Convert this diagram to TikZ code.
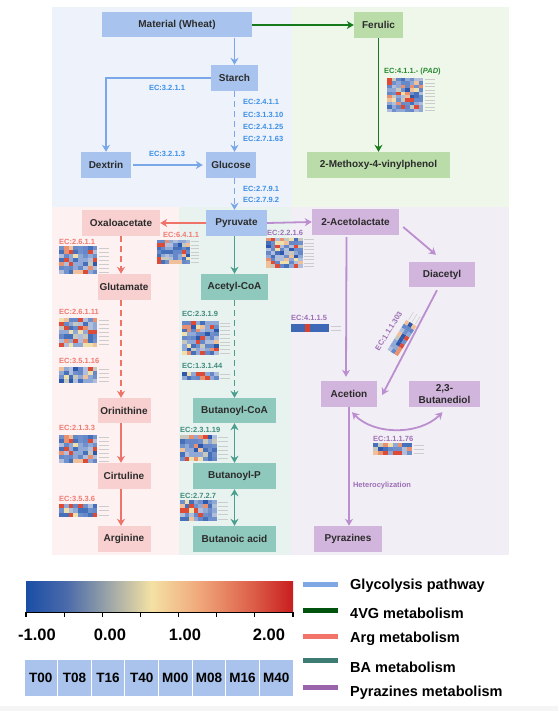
\documentclass[tikz,border=0pt]{standalone}
\usepackage{fontspec}
\setmainfont{Liberation Sans}
\usetikzlibrary{arrows.meta,calc}
\definecolor{bgblue}{HTML}{EDF2FB}
\definecolor{bggreen}{HTML}{EFF7EA}
\definecolor{bgpink}{HTML}{FDF1F1}
\definecolor{bgteal}{HTML}{E8F3F0}
\definecolor{bgpurple}{HTML}{F2EEF5}
\definecolor{glyfill}{HTML}{A8C4EE}
\definecolor{grnfill}{HTML}{B9DCA8}
\definecolor{pnkfill}{HTML}{F9D0D0}
\definecolor{tlfill}{HTML}{8FC8BC}
\definecolor{purfill}{HTML}{D2B5DC}
\definecolor{boxtext}{HTML}{2B2B2B}
\definecolor{glyline}{HTML}{7AA7E8}
\definecolor{grnline}{HTML}{157A1C}
\definecolor{pnkline}{HTML}{F0736A}
\definecolor{tlline}{HTML}{4A9E8E}
\definecolor{purline}{HTML}{BB8FCF}
\definecolor{glylab}{HTML}{3B8FE8}
\definecolor{grnlab}{HTML}{2A8A32}
\definecolor{pnklab}{HTML}{F07A70}
\definecolor{tllab}{HTML}{3E8A7C}
\definecolor{purlab}{HTML}{9C6FB5}
\definecolor{hm1}{HTML}{6688C8}
\definecolor{hm2}{HTML}{6688C8}
\definecolor{hm3}{HTML}{6688C8}
\definecolor{hm4}{HTML}{7090CC}
\definecolor{hm5}{HTML}{7090CC}
\definecolor{hm6}{HTML}{8FA8D6}
\definecolor{hm7}{HTML}{8FA8D6}
\definecolor{hm8}{HTML}{8FA8D6}
\definecolor{hm9}{HTML}{B0BEDB}
\definecolor{hm10}{HTML}{B0BEDB}
\definecolor{hm11}{HTML}{4670BA}
\definecolor{hm12}{HTML}{4670BA}
\definecolor{hm13}{HTML}{2D58AB}
\definecolor{hm14}{HTML}{C6C8BD}
\definecolor{hm15}{HTML}{EFDFAA}
\definecolor{hm16}{HTML}{F0C09A}
\definecolor{hm17}{HTML}{E99070}
\definecolor{hm18}{HTML}{DD4A36}
\definecolor{hm19}{HTML}{DD4A36}
\definecolor{hmblue}{HTML}{3E68B6}
\definecolor{hmred}{HTML}{D9412F}
\definecolor{cb1}{HTML}{1A4EA6}
\definecolor{cb2}{HTML}{4A6AAA}
\definecolor{cb3}{HTML}{8C9AA8}
\definecolor{cb4}{HTML}{F4E1A4}
\definecolor{cb5}{HTML}{F0A77A}
\definecolor{cb6}{HTML}{DC5E48}
\definecolor{cb7}{HTML}{C81D1F}
\definecolor{lgly}{HTML}{7EA7E3}
\definecolor{lgrn}{HTML}{00520C}
\definecolor{lpnk}{HTML}{F27468}
\definecolor{ltl}{HTML}{3E7B72}
\definecolor{lpur}{HTML}{9A64AD}
\definecolor{cellfill}{HTML}{A9C3EC}
\pgfdeclarehorizontalshading{cbar}{100bp}{color(0bp)=(cb1); color(25bp)=(cb1); color(32.5bp)=(cb2); color(39bp)=(cb3); color(48.5bp)=(cb4); color(57.5bp)=(cb5); color(67.5bp)=(cb6); color(75bp)=(cb7); color(100bp)=(cb7)}
\newcommand\heatmap[8]{%
  \pgfmathsetseed{#7}%
  \foreach \hmi in {1,...,#3}{%
    \foreach \hmj in {1,...,#4}{%
      \pgfmathrandominteger{\hmc}{1}{19}%
      \fill[fill=hm\hmc] ({#1+(\hmi-1)*#5},{#2+(\hmj-1)*#6}) rectangle ++(#5,#6);
    }%
  }%
  \foreach \hmj in {1,...,#4}{%
    \draw[hmlab] ({#1+#3*#5+1.5},{#2+(\hmj-0.5)*#6}) -- ++(#8,0);
  }%
}
\tikzset{
  box/.style={inner sep=0pt, font=\fontsize{10}{12}\selectfont\bfseries, text=boxtext},
  glybox/.style={box, fill=glyfill},
  grnbox/.style={box, fill=grnfill},
  pnkbox/.style={box, fill=pnkfill},
  tlbox/.style={box, fill=tlfill},
  purbox/.style={box, fill=purfill},
  arr/.style={line width=1.8pt, -{Stealth[length=7pt,width=8pt]}},
  darr/.style={line width=1.8pt, {Stealth[length=7pt,width=8pt]}-{Stealth[length=7pt,width=8pt]}},
  dsh/.style={dash pattern=on 6pt off 4pt},
  ec/.style={font=\fontsize{7.5}{9}\selectfont\bfseries, inner sep=0pt, anchor=west},
  hmlab/.style={draw=gray!40, line width=0.5pt},
  lgline/.style={line width=5pt},
  lgtext/.style={font=\fontsize{14.5}{16}\selectfont\bfseries, anchor=west, inner sep=0pt},
  ticklab/.style={font=\fontsize{16.5}{18}\selectfont\bfseries, inner sep=0pt},
  timecell/.style={fill=cellfill, draw=white, line width=1pt, minimum width=33.625pt, minimum height=37pt, inner sep=0pt, font=\fontsize{13.5}{15}\selectfont\bfseries}
}
\begin{document}
\begin{tikzpicture}[x=1pt,y=-1pt]
\useasboundingbox (0,0) rectangle (558,711);
\fill[white] (0,0) rectangle (558,711);
\fill[gray!8] (0,706) rectangle (558,711);
% regions
\fill[bgblue] (52,7) rectangle (292,207);
\fill[bggreen] (292,7) rectangle (509,207);
\fill[bgpink] (52,207) rectangle (179,555);
\fill[bgteal] (179,207) rectangle (291,555);
\fill[bgpurple] (291,207) rectangle (509,555);
% nodes
\node[glybox, minimum width=150pt, minimum height=25pt] (mat) at (177,25) {Material (Wheat)};
\node[glybox, minimum width=47pt, minimum height=26pt] (starch) at (234.5,78) {Starch};
\node[glybox, minimum width=50pt, minimum height=26pt] (dextrin) at (106,165) {Dextrin};
\node[glybox, minimum width=50pt, minimum height=26pt] (glucose) at (231,165) {Glucose};
\node[grnbox, minimum width=49pt, minimum height=26pt] (ferulic) at (378.5,25) {Ferulic};
\node[grnbox, minimum width=143pt, minimum height=26pt] (meth) at (378.5,165) {2-Methoxy-4-vinylphenol};
\node[glybox, minimum width=61pt, minimum height=26pt] (pyr) at (236.5,223) {Pyruvate};
\node[pnkbox, minimum width=78pt, minimum height=26pt] (oxa) at (121,223) {Oxaloacetate};
\node[pnkbox, minimum width=53pt, minimum height=26pt] (glu) at (124,287) {Glutamate};
\node[pnkbox, minimum width=53pt, minimum height=25pt] (orn) at (124,410.5) {Orinithine};
\node[pnkbox, minimum width=53pt, minimum height=26pt] (cir) at (124,476) {Cirtuline};
\node[pnkbox, minimum width=53pt, minimum height=26pt] (arg) at (124,539) {Arginine};
\node[tlbox, minimum width=67pt, minimum height=26pt] (acoa) at (234.5,287) {Acetyl-CoA};
\node[tlbox, minimum width=83pt, minimum height=25pt] (bcoa) at (234.5,410.5) {Butanoyl-CoA};
\node[tlbox, minimum width=83pt, minimum height=26pt] (bp) at (234.5,476) {Butanoyl-P};
\node[tlbox, minimum width=83pt, minimum height=26pt] (bacid) at (234.5,539) {Butanoic acid};
\node[purbox, minimum width=87pt, minimum height=26pt] (acl) at (355.5,222) {2-Acetolactate};
\node[purbox, minimum width=66pt, minimum height=25pt] (dia) at (442,274.5) {Diacetyl};
\node[purbox, minimum width=56pt, minimum height=26pt] (acet) at (349,394) {Acetion};
\node[purbox, minimum width=71pt, minimum height=26pt, align=center] (bd) at (444.5,394) {2,3-\\Butanediol};
\node[purbox, minimum width=68pt, minimum height=26pt] (pyz) at (348,539) {Pyrazines};
% glycolysis arrows
\draw[arr, glyline] (starch.north |- mat.south) -- (starch.north);
\draw[arr, glyline] (starch.west) -| (dextrin.north);
\draw[arr, glyline, dsh] (starch.south) -- (starch.south |- glucose.north);
\draw[arr, glyline] ([xshift=2pt]dextrin.east) -- ([xshift=-3pt]glucose.west);
\draw[arr, glyline, dsh] (starch.south |- glucose.south) -- (starch.south |- pyr.north);
% green arrows
\draw[arr, grnline] (mat.east) -- (ferulic.west);
\draw[arr, grnline] (ferulic.south) -- (ferulic.south |- meth.north);
% pink arrows
\draw[arr, pnkline] (pyr.west) -- (oxa.east);
\draw[arr, pnkline, dsh] (oxa.south) -- (oxa.south |- glu.north);
\draw[arr, pnkline, dsh] (oxa.south |- glu.south) -- (oxa.south |- orn.north);
\draw[arr, pnkline] (oxa.south |- orn.south) -- (oxa.south |- cir.north);
\draw[arr, pnkline] (oxa.south |- cir.south) -- (oxa.south |- arg.north);
% teal arrows
\draw[arr, tlline] (pyr.south -| acoa) -- (acoa.north);
\draw[arr, tlline, dsh] (acoa.south) -- (bcoa.north);
\draw[darr, tlline] (bcoa.south) -- (bp.north);
\draw[darr, tlline] (bp.south) -- (bacid.north);
% purple arrows
\draw[arr, purline] (pyr.east) -- (acl.west);
\draw[arr, purline] ($(acl.east)+(4,5)$) -- ($(dia.north)+(-6,-7)$);
\draw[arr, purline] ($(acl.south)+(-9,2)$) -- ($(acet.north)+(-3,-4)$);
\draw[arr, purline] ($(dia.south)+(-5,3)$) -- ($(acet.east)+(5,1)$);
\draw[darr, purline] ($(acet.south)+(3,5)$) .. controls ($(acet.south)+(25,28)$) and ($(bd.south)+(-25,28)$) .. ($(bd.south)+(-2,5)$);
\draw[arr, purline] (acet.south) -- (acet.south |- pyz.north);
% glycolysis labels
\node[ec, glylab, anchor=center] (ec1) at (167,88) {EC:3.2.1.1};
\node[ec, glylab] (ec2) at (243,102) {EC:2.4.1.1};
\node[ec, glylab] (ec3) at (243,115) {EC:3.1.3.10};
\node[ec, glylab] (ec4) at (243,127) {EC:2.4.1.25};
\node[ec, glylab] (ec5) at (243,139) {EC:2.7.1.63};
\node[ec, glylab, anchor=center] (ec6) at (167,154) {EC:3.2.1.3};
\node[ec, glylab] (ec7) at (243,189) {EC:2.7.9.1};
\node[ec, glylab] (ec8) at (243,200) {EC:2.7.9.2};
% green label + heatmap
\node[ec, grnlab] (ecpad) at (384,72) {EC:4.1.1.- (\textit{PAD})};
\heatmap{387}{78}{8}{10}{4.5}{3.4}{11}{10}
% pink labels + heatmaps
\node[ec, pnklab] (ec6411) at (163,235) {EC:6.4.1.1};
\heatmap{157}{240}{8}{7}{4.1}{3.4}{23}{8}
\node[ec, pnklab] (ec2611) at (59,242) {EC:2.6.1.1};
\heatmap{59}{246}{8}{7}{4.8}{4}{31}{10}
\node[ec, pnklab] (ec26111) at (59,312) {EC:2.6.1.11};
\heatmap{59}{318}{8}{7}{4.8}{4.1}{37}{10}
\node[ec, pnklab] (ec35116) at (59,360.5) {EC:3.5.1.16};
\heatmap{59}{367}{8}{4}{4.8}{4}{41}{10}
\node[ec, pnklab] (ec2133) at (59,428) {EC:2.1.3.3};
\heatmap{59}{435}{8}{7}{4.8}{4}{31}{10}
\node[ec, pnklab] (ec3536) at (59,498.5) {EC:3.5.3.6};
\heatmap{59}{504}{8}{3}{4.8}{4.3}{53}{10}
% teal labels + heatmaps
\node[ec, tllab] (ec2319) at (182,314) {EC:2.3.1.9};
\heatmap{182}{321}{8}{9}{4.6}{3.8}{61}{10}
\node[ec, tllab] (ec13144) at (182,366) {EC:1.3.1.44};
\heatmap{182}{372}{8}{2}{4.6}{4}{67}{10}
\node[ec, tllab] (ec23119) at (180,430) {EC:2.3.1.19};
\heatmap{180}{435}{8}{6}{4.6}{4.3}{71}{10}
\node[ec, tllab] (ec2727) at (180,495.5) {EC:2.7.2.7};
\heatmap{180}{500}{8}{5}{4.6}{4.2}{73}{10}
% purple labels + heatmaps
\node[ec, purlab] (ec2216) at (267,233) {EC:2.2.1.6};
\heatmap{266}{238}{8}{9}{4.6}{3.3}{83}{10}
\node[ec, purlab] (ec4115) at (291,318) {EC:4.1.1.5};
\fill[hmblue] (291,324) rectangle (329,332);
\fill[hmred] (305.25,324) rectangle (310,332);
\draw[hmlab] (330.5,326) -- ++(10,0);
\draw[hmlab] (330.5,330) -- ++(10,0);
\node[ec, purlab] (ec11176) at (373,439) {EC:1.1.1.76};
\heatmap{373}{443}{8}{3}{4.9}{4}{97}{10}
\begin{scope}[shift={(402,338)}, rotate=58]
\heatmap{-17.6}{-6}{8}{3}{4.4}{4}{89}{9}
\node[ec, purlab, anchor=center, rotate=58] (ec111303) at (-1,-15) {EC:1.1.1.303};
\end{scope}
\node[ec, purlab, anchor=center] (hetero) at (382,486) {Heterocylization};
% colour bar
\shade[shading=cbar] (26,581) rectangle (293,612);
\draw[line width=1pt] (26,612) -- (293,612);
\foreach \k in {0,...,7} \draw[line width=1.2pt] ({26+\k*38.143},612) -- ++(0,5);
\node[ticklab] (t1) at (37,635) {-1.00};
\node[ticklab] (t2) at (110,635) {0.00};
\node[ticklab] (t3) at (185,635) {1.00};
\node[ticklab] (t4) at (269,635) {2.00};
% time cells
\foreach \k/\t in {0/T00,1/T08,2/T16,3/T40,4/M00,5/M08,6/M16,7/M40}
  \node[timecell] (tc\k) at ({24+(\k+0.5)*33.625},677.5) {\t};
% legend
\draw[lgline, lgly] (303,584) -- (338,584);
\draw[lgline, lgrn] (303,610) -- (338,610);
\draw[lgline, lpnk] (303,636) -- (338,636);
\draw[lgline, ltl] (303,660) -- (338,660);
\draw[lgline, lpur] (303,687) -- (338,687);
\node[lgtext] (lg1) at (350,586) {Glycolysis pathway};
\node[lgtext] (lg2) at (350,613) {4VG metabolism};
\node[lgtext] (lg3) at (350,639) {Arg metabolism};
\node[lgtext] (lg4) at (350,667) {BA metabolism};
\node[lgtext] (lg5) at (350,693) {Pyrazines metabolism};
\end{tikzpicture}
\end{document}
